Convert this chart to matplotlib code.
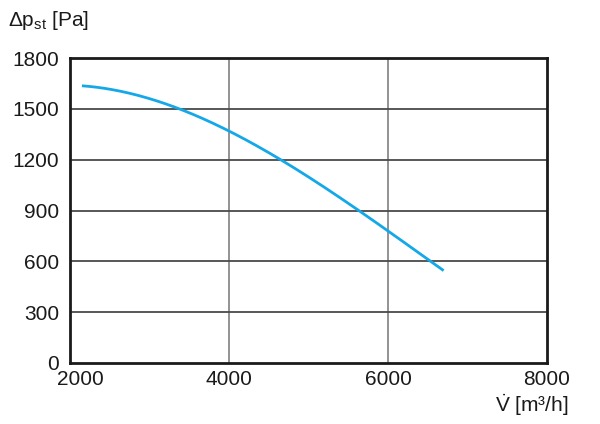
import matplotlib
matplotlib.use("Agg")
import matplotlib.pyplot as plt
import matplotlib.transforms as mtransforms
import numpy as np

flow = [2150, 2415, 2840, 3385, 4000, 4645, 5000, 5615, 6000, 6550, 6700]
pressure = [1645, 1616, 1572, 1500, 1370, 1208, 1105, 900, 767, 600, 548]
xticks = [2000, 4000, 6000, 8000]
yticks = [0, 300, 600, 900, 1200, 1500, 1800]

plt.rcParams['font.family'] = ['Liberation Sans', 'DejaVu Sans']
plt.rcParams['mathtext.default'] = 'regular'

fig = plt.figure(figsize=(6, 4.24), dpi=100)
ax = fig.add_axes([70/600, 61/424, 477/600, 305/424])

xs = np.array(flow, dtype=float)
ys = np.array(pressure, dtype=float)
coef = np.polyfit(xs, ys, 3)
xx = np.linspace(xs[0], xs[-1], 200)
ax.plot(xx, np.polyval(coef, xx), color='#14a8e8', lw=2, solid_capstyle='butt', zorder=3)

ax.set_xlim(2000, 8000)
ax.set_ylim(0, 1800)
ax.set_xticks(xticks)
ax.set_yticks(yticks)
ax.set_xticklabels([str(v) for v in xticks])
ax.set_yticklabels([str(v) for v in yticks])
for v in xticks[1:-1]:
    ax.axvline(v, color='#8a8a8a', lw=1.3, zorder=1)
for v in yticks[1:-1]:
    ax.axhline(v, color='#4a4a4a', lw=1.3, zorder=1)
for s in ax.spines.values():
    s.set_linewidth(2)
    s.set_color('#1a1a1a')
ax.tick_params(length=0, labelsize=15, colors='#1a1a1a')
ax.tick_params(axis='y', pad=8)
ax.tick_params(axis='x', pad=5)

# shift first x label right so it clears the "0"
first = ax.get_xticklabels()[0]
first.set_transform(first.get_transform() + mtransforms.ScaledTranslation(10/100, 0, fig.dpi_scale_trans))

fig.text(8/600, 1 - 20/424, r'Δp$_{st}$ [Pa]', fontsize=15, va='center', ha='left', color='#1a1a1a')
fig.text(569/600, 1 - 405/424, r'$\dot{V}$ [m³/h]', fontsize=15, va='center', ha='right', color='#1a1a1a')

fig.savefig('out.png', dpi=100)
